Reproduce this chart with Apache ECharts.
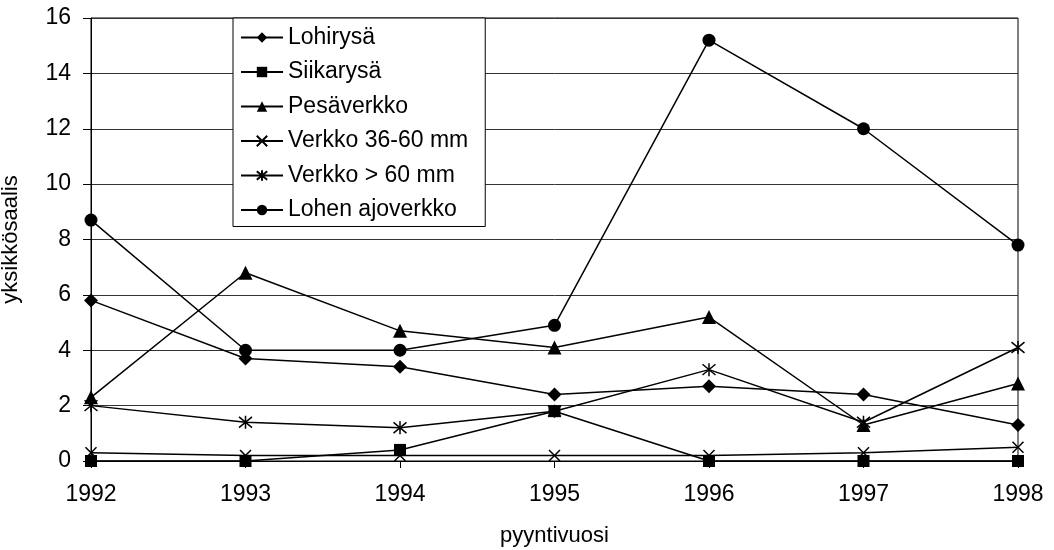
<!DOCTYPE html>
<html>
<head>
<meta charset="utf-8">
<script src="https://cdn.jsdelivr.net/npm/echarts@6/dist/echarts.min.js"></script>
<style>
  html, body { margin: 0; padding: 0; background: #fff; }
  #main { width: 1054px; height: 550px; }
</style>
</head>
<body>
<div id="main"></div>
<script>
var years = ['1992', '1993', '1994', '1995', '1996', '1997', '1998'];
var yTicks = [0, 2, 4, 6, 8, 10, 12, 14, 16];

var lohirysa = [5.8, 3.7, 3.4, 2.4, 2.7, 2.4, 1.3];
var siikarysa = [0, 0, 0.4, 1.8, 0, 0, 0];
var pesaverkko = [2.3, 6.8, 4.7, 4.1, 5.2, 1.3, 2.8];
var verkko3660 = [0.3, 0.2, 0.2, 0.2, 0.2, 0.3, 0.5];
var verkko60 = [2.0, 1.4, 1.2, 1.8, 3.3, 1.4, 4.1];
var ajoverkko = [8.7, 4.0, 4.0, 4.9, 15.2, 12.0, 7.8];

var FONT = '"Liberation Sans", Arial, sans-serif';

function mkSeries(name, data, symbol, size, stroked) {
	return {
		name: name,
		type: 'line',
		data: data,
		symbol: symbol,
		symbolSize: size,
		showAllSymbol: true,
		lineStyle: { color: '#000', width: 1.5 },
		itemStyle: stroked ? { color: '#000', borderColor: '#000', borderWidth: 1.5 } : { color: '#000' },
		emphasis: { disabled: true },
		animation: false
	};
}

var chart = echarts.init(document.getElementById('main'));
chart.setOption({
	backgroundColor: '#fff',
	textStyle: { fontFamily: FONT },
	grid: {
		left: 91, right: 36, top: 18, bottom: 89,
		outerBoundsMode: 'none',
		containLabel: false,
		show: true, borderColor: '#000', borderWidth: 1
	},
	legend: {
		orient: 'vertical',
		left: 233, top: 18,
		padding: [8, 17, 5, 7],
		itemGap: 11.5,
		itemWidth: 42,
		itemHeight: 13,
		backgroundColor: '#fff',
		borderColor: '#000',
		borderWidth: 1,
		borderRadius: 0,
		textStyle: { fontSize: 23, color: '#000', fontFamily: FONT }
	},
	xAxis: {
		type: 'category',
		data: years,
		boundaryGap: false,
		name: 'pyyntivuosi',
		nameLocation: 'middle',
		nameGap: 64,
		nameTextStyle: { fontSize: 22, color: '#000', fontFamily: FONT },
		axisLine: { lineStyle: { color: '#000', width: 1 } },
		axisTick: { show: true, length: 7, lineStyle: { color: '#000' } },
		axisLabel: { fontSize: 23, color: '#000', margin: 22, fontFamily: FONT },
		splitLine: { show: false }
	},
	yAxis: {
		type: 'value',
		min: yTicks[0],
		max: yTicks[yTicks.length - 1],
		interval: 2,
		name: 'yksikkösaalis',
		nameLocation: 'middle',
		nameGap: 69,
		nameTextStyle: { fontSize: 22, color: '#000', fontFamily: FONT },
		axisLine: { show: true, lineStyle: { color: '#000', width: 1 } },
		axisTick: { show: true, length: 8, lineStyle: { color: '#000' } },
		axisLabel: { fontSize: 23, color: '#000', margin: 20, fontFamily: FONT },
		splitLine: { show: true, lineStyle: { color: '#333', width: 1 } }
	},
	series: [
		mkSeries('Lohirysä', lohirysa, 'diamond', 14),
		mkSeries('Siikarysä', siikarysa, 'rect', 12),
		mkSeries('Pesäverkko', pesaverkko, 'triangle', 14),
		mkSeries('Verkko 36-60 mm', verkko3660, 'path://M0,0L10,10M10,0L0,10', 11, true),
		mkSeries('Verkko > 60 mm', verkko60, 'path://M0,0L10,10M10,0L0,10M5,-1L5,11', 13, true),
		mkSeries('Lohen ajoverkko', ajoverkko, 'circle', 13)
	]
});
</script>
</body>
</html>
